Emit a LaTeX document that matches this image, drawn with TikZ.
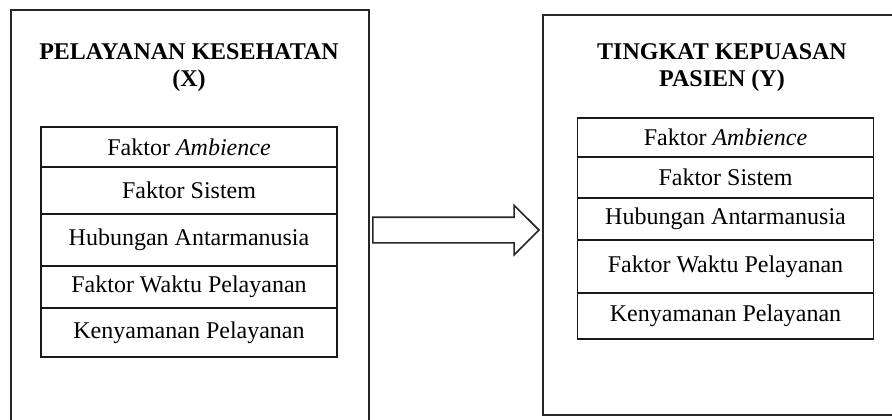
\documentclass[tikz,border=0pt]{standalone}
\usepackage{fontspec}
\setmainfont{Liberation Serif}
\usetikzlibrary{positioning,shapes.arrows}

\begin{document}
\begin{tikzpicture}[x=0.5pt, y=-0.5pt,
    frame/.style={draw=black!85, line width=0.8pt, rectangle, inner sep=0pt, anchor=north west},
    title/.style={font=\fontsize{12}{13.5}\selectfont\bfseries, align=center},
    row/.style={draw=black!90, line width=0.9pt, rectangle, inner sep=0pt, anchor=north,
      minimum width=148pt, font=\fontsize{12}{14}\selectfont},
    bigarrow/.style={draw=black!85, line width=0.8pt, single arrow, inner xsep=0pt, inner ysep=6pt,
      text height=0pt, text depth=0pt,
      minimum height=83pt, minimum width=24pt, single arrow head extend=6pt},
  ]
  \useasboundingbox (0,0) rectangle (892,419);
  \clip (0,0) rectangle (892,419);

  % the two outer frames
  \node[frame, minimum width=179pt, minimum height=216pt] (frameX) at (10,9) {};
  \node[frame, minimum width=184pt, minimum height=200pt] (frameY) at (542,14) {};

  % titles
  \node[title] (titleX) at (189,68) {PELAYANAN KESEHATAN\\(X)};
  \node[title] (titleY) at (722,68) {TINGKAT KEPUASAN\\PASIEN (Y)};

  % indicator rows, variable X
  \foreach \n/\top/\h/\txt in {
    1/126/40/{Faktor \textit{Ambience}}, 2/166/47/{Faktor Sistem},
    3/213/52/{Hubungan Antarmanusia}, 4/265/42/{Faktor Waktu Pelayanan},
    5/307/49/{Kenyamanan Pelayanan}}
    \node[row, minimum height=\h*0.5pt] (x\n) at (189,\top) {\txt};

  % indicator rows, variable Y
  \foreach \n/\top/\h/\txt in {
    1/117/39/{Faktor \textit{Ambience}}, 2/156/41/{Faktor Sistem},
    3/197/42/{Hubungan Antarmanusia}, 4/239/53/{Faktor Waktu Pelayanan},
    5/292/46/{Kenyamanan Pelayanan}}
    \node[row, minimum height=\h*0.5pt] (y\n) at (725.5,\top) {\txt};

  % influence of X on Y
  \node[bigarrow, anchor=tip] (arrowXY) at (540,230) {};
\end{tikzpicture}
\end{document}
